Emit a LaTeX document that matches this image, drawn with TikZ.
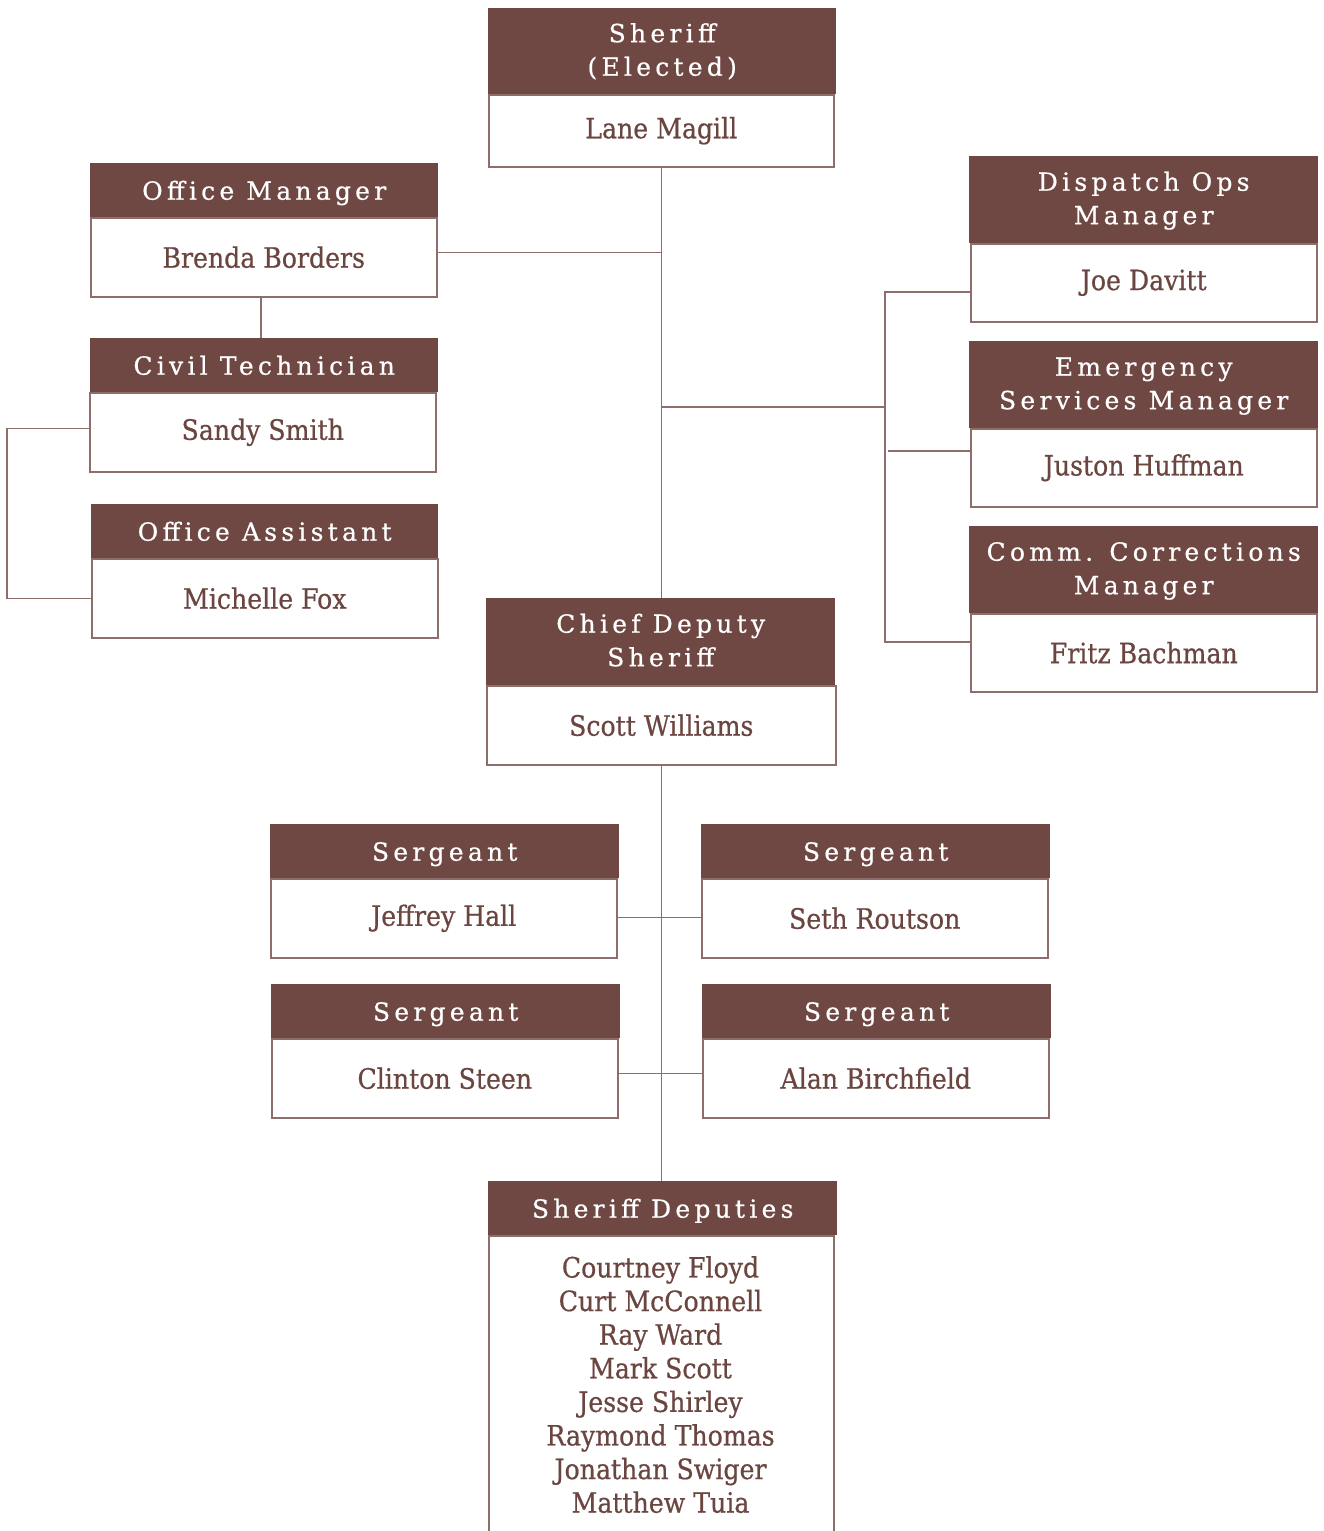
\documentclass[tikz,border=0pt]{standalone}
\usepackage{fontspec}
\usetikzlibrary{calc}
\newfontfamily\namefont[FakeBold=0.6]{DejaVu Serif Condensed}
\newfontfamily\hdrfontfam[LetterSpace=17,FakeBold=0.6]{DejaVu Serif}
\definecolor{hdrcol}{HTML}{6F4843}
\definecolor{namecol}{HTML}{6B4540}
\definecolor{linecol}{HTML}{8E6E6A}
\tikzset{
  hdr/.style={fill=hdrcol, text=white, font=\hdrfontfam\fontsize{25}{33.5}\selectfont,
    align=center, inner sep=0pt, anchor=north west, text height=25pt, text depth=6pt},
  hdrtwo/.style={hdr, text height=55pt, text depth=6pt},
  body/.style={draw=linecol, line width=1.5pt, fill=white, text=namecol,
    font=\namefont\fontsize{28}{33.6}\selectfont, align=center, inner sep=0pt, anchor=north west},
  conn/.style={draw=linecol, line width=1.5pt}
}
\begin{document}
\begin{tikzpicture}[x=1pt,y=-1pt]
\useasboundingbox (0,0) rectangle (1324,1531);
\clip (0,0) rectangle (1324,1531);
\fill[white] (0,0) rectangle (1324,1531);

% Sheriff
\node[body, minimum width=345pt, minimum height=72pt] (sheriff) at (488,94) {Lane Magill};
\node[hdrtwo, minimum width=348pt, minimum height=86pt] (sheriff-h) at (488,8) {Sheriff\\(Elected)};

% Left column
\node[body, minimum width=346pt, minimum height=79pt] (om) at (90,217) {Brenda Borders};
\node[hdr, minimum width=348pt, minimum height=54pt] (om-h) at (90,163) {Office Manager};
\node[body, minimum width=346pt, minimum height=79pt] (ct) at (89,392) {Sandy Smith};
\node[hdr, minimum width=348pt, minimum height=54pt] (ct-h) at (90,338) {Civil Technician};
\node[body, minimum width=346pt, minimum height=79pt] (oa) at (91,558) {Michelle Fox};
\node[hdr, minimum width=347pt, minimum height=54pt] (oa-h) at (91,504) {Office Assistant};

% Right column
\node[body, minimum width=346pt, minimum height=78pt] (dom) at (970,243) {Joe Davitt};
\node[hdrtwo, minimum width=349pt, minimum height=87pt] (dom-h) at (969,156) {Dispatch Ops\\Manager};
\node[body, minimum width=346pt, minimum height=78pt] (esm) at (970,428) {Juston Huffman};
\node[hdrtwo, minimum width=349pt, minimum height=87pt] (esm-h) at (969,341) {Emergency\\Services Manager};
\node[body, minimum width=346pt, minimum height=78pt] (ccm) at (970,613) {Fritz Bachman};
\node[hdrtwo, minimum width=349pt, minimum height=87pt] (ccm-h) at (969,526) {Comm. Corrections\\Manager};

% Chief deputy
\node[body, minimum width=349pt, minimum height=79pt] (chief) at (486,685) {Scott Williams};
\node[hdrtwo, minimum width=349pt, minimum height=87pt] (chief-h) at (486,598) {Chief Deputy\\Sheriff};

% Sergeants
\node[body, minimum width=346pt, minimum height=79pt] (jh) at (270,878) {Jeffrey Hall};
\node[hdr, minimum width=349pt, minimum height=54pt] (jh-h) at (270,824) {Sergeant};
\node[body, minimum width=346pt, minimum height=79pt] (sr) at (701,878) {Seth Routson};
\node[hdr, minimum width=349pt, minimum height=54pt] (sr-h) at (701,824) {Sergeant};
\node[body, minimum width=346pt, minimum height=79pt] (cs) at (271,1038) {Clinton Steen};
\node[hdr, minimum width=349pt, minimum height=54pt] (cs-h) at (271,984) {Sergeant};
\node[body, minimum width=346pt, minimum height=79pt] (ab) at (702,1038) {Alan Birchfield};
\node[hdr, minimum width=349pt, minimum height=54pt] (ab-h) at (702,984) {Sergeant};

% Deputies (box runs past the lower edge)
\node[body, minimum width=345pt, minimum height=320pt] (dep) at (488,1235) {};
\node[text=namecol, font=\namefont\fontsize{28}{33.6}\selectfont, align=center, anchor=north, inner sep=0pt] (deplist) at (660.5,1256)
  {Courtney Floyd\\Curt McConnell\\Ray Ward\\Mark Scott\\Jesse Shirley\\Raymond Thomas\\Jonathan Swiger\\Matthew Tuia};
\node[hdr, minimum width=349pt, minimum height=54pt] (dep-h) at (488,1181) {Sheriff Deputies};

% Connectors
\draw[conn] (sheriff.south) -- (sheriff.south |- chief-h.north);
\draw[conn] ([yshift=5pt]om.east) -- ([yshift=5pt]om.east -| sheriff.south);
\draw[conn] ([xshift=-3pt]om.south) -- ([xshift=-3pt]om.south |- ct-h.north);
\draw[conn] ([yshift=4pt]ct.west) -- ++(-82,0) |- (oa.west);

\coordinate (rb) at (885,407);
\coordinate (d1) at ([yshift=-9pt]dom.west);
\coordinate (e1) at ([yshift=17pt]esm.west);
\coordinate (c1) at ([yshift=11pt]ccm.west);
\draw[conn] ([xshift=1pt]sheriff.south |- rb) -- (rb);
\draw[conn] (d1) -- (d1 -| rb) -- (c1 -| rb) -- (c1);
\draw[conn] (e1) -- ([xshift=3pt]e1 -| rb);

\draw[conn] (chief.south) -- (chief.south |- dep-h.north);
\draw[conn] ([yshift=1pt]jh.east) -- ([yshift=1pt]sr.west);
\draw[conn] ([yshift=5pt]cs.east) -- ([yshift=5pt]ab.west);
\end{tikzpicture}
\end{document}
